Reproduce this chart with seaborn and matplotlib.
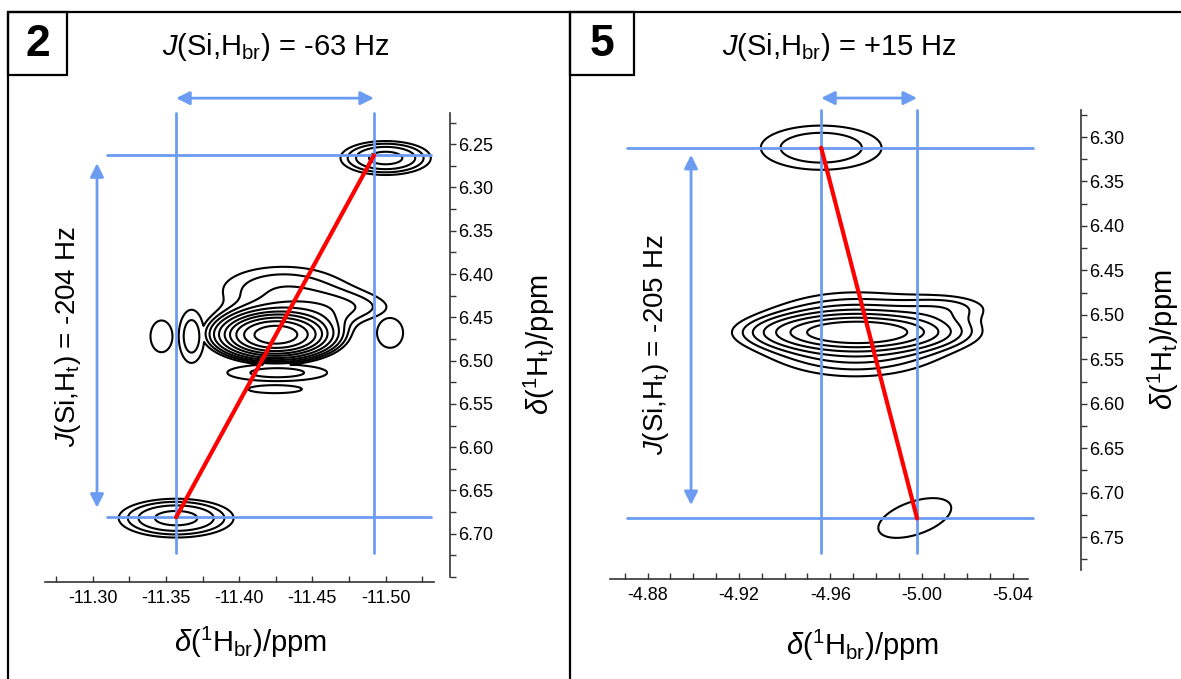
import numpy as np
import matplotlib
matplotlib.use("Agg")
import matplotlib.pyplot as plt
import seaborn as sns
from matplotlib.lines import Line2D
from matplotlib.patches import Rectangle
from matplotlib.ticker import MultipleLocator

# ---------------- data ----------------
# panel "2"
p2_xlim = [-11.2675, -11.533]
p2_ylim = [6.75, 6.214]
p2_xticks = [-11.30, -11.35, -11.40, -11.45, -11.50]
p2_xtick_labels = ["-11.30", "-11.35", "-11.40", "-11.45", "-11.50"]
p2_yticks = [6.25, 6.30, 6.35, 6.40, 6.45, 6.50, 6.55, 6.60, 6.65, 6.70]
p2_cross_x = [-11.357, -11.492]      # H_br positions of the two satellites
p2_cross_y = [6.681, 6.263]          # H_t positions of the two satellites
# contour components: centre, widths, height, correlation, group (groups are overlaid)
p2_peak_x = [-11.425, -11.500, -11.357, -11.347, -11.3675, -11.503, -11.430, -11.472, -11.426, -11.4245]
p2_peak_y = [6.4705, 6.266, 6.682, 6.472, 6.472, 6.468, 6.418, 6.440, 6.514, 6.533]
p2_peak_sx = [0.021, 0.022, 0.028, 0.0135, 0.0091, 0.016, 0.040, 0.030, 0.0378, 0.033]
p2_peak_sy = [0.0146, 0.014, 0.016, 0.033, 0.032, 0.031, 0.026, 0.014, 0.0108, 0.0083]
p2_peak_amp = [1.0, 0.16, 0.16, 0.07, 0.095, 0.07, 0.10, 0.07, 0.09, 0.07]
p2_peak_rho = [0, 0, 0, 0, 0, 0, 0, 0, 0, 0]
p2_peak_grp = [0, 1, 2, 3, 4, 5, 0, 0, 8, 9]
p2_levels = [0.06, 0.08, 0.105, 0.14, 0.19, 0.26, 0.34, 0.45, 0.6, 0.8]
p2_title = r"$J$(Si,H$_{\mathrm{br}}$) = -63 Hz"
p2_vlabel = r"$J$(Si,H$_{\mathrm{t}}$) = -204 Hz"
p2_arrow_x = -11.303
p2_arrow_y = [6.272, 6.670]

# panel "5"
p5_xlim = [-4.8635, -5.0466]
p5_ylim = [6.787, 6.2696]
p5_xticks = [-4.88, -4.92, -4.96, -5.00, -5.04]
p5_xtick_labels = ["-4.88", "-4.92", "-4.96", "-5.00", "-5.04"]
p5_yticks = [6.30, 6.35, 6.40, 6.45, 6.50, 6.55, 6.60, 6.65, 6.70, 6.75]
p5_cross_x = [-4.956, -4.998]
p5_cross_y = [6.312, 6.729]
p5_peak_x = [-4.972, -4.971, -5.012, -4.956, -4.997]
p5_peak_y = [6.5195, 6.522, 6.492, 6.312, 6.7285]
p5_peak_sx = [0.023, 0.027, 0.014, 0.0217, 0.020]
p5_peak_sy = [0.011, 0.029, 0.011, 0.0204, 0.028]
p5_peak_amp = [0.7, 0.3, 0.1, 0.168, 0.11]
p5_peak_rho = [0, 0, 0, 0, 0.5]
p5_peak_grp = [0, 0, 0, 1, 2]
p5_levels = [0.08, 0.12, 0.17, 0.24, 0.34, 0.48, 0.66]
p5_title = r"$J$(Si,H$_{\mathrm{br}}$) = +15 Hz"
p5_vlabel = r"$J$(Si,H$_{\mathrm{t}}$) = -205 Hz"
p5_arrow_x = -4.899
p5_arrow_y = [6.320, 6.714]

xlabel = r"$\delta$($^{1}$H$_{\mathrm{br}}$)/ppm"
ylabel = r"$\delta$($^{1}$H$_{\mathrm{t}}$)/ppm"

BLUE = "#6b9cf2"
RED = "#ff0000"

# ---------------- style ----------------
sns.set_style("white")
plt.rcParams["font.family"] = ["Liberation Sans", "DejaVu Sans"]
plt.rcParams["mathtext.fontset"] = "custom"
plt.rcParams["mathtext.rm"] = "Liberation Sans"
plt.rcParams["mathtext.it"] = "Liberation Sans:italic"
plt.rcParams["mathtext.bf"] = "Liberation Sans:bold"
plt.rcParams["text.color"] = "black"
plt.rcParams["axes.labelcolor"] = "black"

W, H = 1181, 679
fig = plt.figure(figsize=(W / 100, H / 100), dpi=100)


def rect(x0, y0, x1, y1):
    return [x0 / W, 1 - y1 / H, (x1 - x0) / W, (y1 - y0) / H]


def spectrum(X, Y, px, py, sx, sy, amp, rho, grp):
    groups = {}
    for x0, y0, a, b, A, r, g in zip(px, py, sx, sy, amp, rho, grp):
        dx = (X - x0) / a
        dy = (Y - y0) / b
        comp = A * np.exp(-(dx ** 2 - 2 * r * dx * dy + dy ** 2) / (2 * (1 - r ** 2)))
        groups[g] = groups.get(g, 0) + comp
    return np.max(np.stack(list(groups.values())), axis=0)


def panel(box, xlim, ylim, xticks, xtl, yticks, xminor, cross_x, cross_y,
          px, py, sx, sy, amp, rho, grp, levels, vline_bottom, hline_x,
          bottom_off, right_off, xlab_pos, ylab_pos):
    ax = fig.add_axes(rect(*box))
    X, Y = np.meshgrid(np.linspace(xlim[0], xlim[1], 700),
                       np.linspace(ylim[1], ylim[0], 700))
    Z = spectrum(X, Y, px, py, sx, sy, amp, rho, grp)
    ax.contour(X, Y, Z, levels=levels, colors="black", linewidths=1.5)
    # blue guide lines
    for xv in cross_x:
        ax.plot([xv, xv], [ylim[1], vline_bottom], color=BLUE, lw=2, clip_on=False)
    for yv in cross_y:
        ax.plot(hline_x, [yv, yv], color=BLUE, lw=2, clip_on=False)
    # red connection
    sns.lineplot(x=cross_x, y=cross_y, color=RED, lw=3, ax=ax, sort=False)
    ax.set_xlim(xlim)
    ax.set_ylim(ylim)
    ax.set_xticks(xticks)
    ax.set_xticklabels(xtl)
    ax.set_yticks(yticks)
    ax.set_yticklabels([f"{v:.2f}" for v in yticks])
    ax.xaxis.set_minor_locator(MultipleLocator(xminor))
    ax.yaxis.set_minor_locator(MultipleLocator(0.025))
    ax.yaxis.tick_right()
    for s in ["top", "left"]:
        ax.spines[s].set_visible(False)
    for s in ["bottom", "right"]:
        ax.spines[s].set_visible(True)
        ax.spines[s].set_color("#333333")
        ax.spines[s].set_linewidth(1.2)
    ax.spines["bottom"].set_position(("outward", bottom_off))
    ax.spines["right"].set_position(("outward", right_off))
    ax.tick_params(axis="x", which="both", direction="in", bottom=True, top=False,
                   length=4, width=1, color="#333333", labelsize=13, pad=6,
                   labelcolor="black")
    ax.tick_params(axis="y", which="both", direction="out", right=True, left=False,
                   length=4, width=1, color="#333333", labelsize=13, pad=2,
                   labelcolor="black")
    ax.set_xlabel(xlabel, fontsize=21)
    ax.set_ylabel(ylabel, fontsize=21, rotation=90)
    ax.xaxis.set_label_coords(*xlab_pos)
    ax.xaxis.label.set_va("center")
    ax.yaxis.set_label_position("right")
    ax.yaxis.set_label_coords(*ylab_pos)
    ax.yaxis.label.set_va("center")
    ax.grid(False)
    return ax


ax2 = panel((45, 113, 434, 577), p2_xlim, p2_ylim, p2_xticks, p2_xtick_labels,
            p2_yticks, 0.025, p2_cross_x, p2_cross_y,
            p2_peak_x, p2_peak_y, p2_peak_sx, p2_peak_sy, p2_peak_amp, p2_peak_rho,
            p2_peak_grp, p2_levels, 6.722, [-11.31, -11.531], 3.6, 11.5,
            (0.527, -0.142), (1.272, 0.5))
ax5 = panel((610, 110, 1028, 570), p5_xlim, p5_ylim, p5_xticks, p5_xtick_labels,
            p5_yticks, 0.01, p5_cross_x, p5_cross_y,
            p5_peak_x, p5_peak_y, p5_peak_sx, p5_peak_sy, p5_peak_amp, p5_peak_rho,
            p5_peak_grp, p5_levels, 6.768, [-4.871, -5.049], 6.5, 38,
            (0.605, -0.163), (1.323, 0.5))

# arrows
arrow_kw = dict(arrowstyle="<|-|>", color=BLUE, lw=2, mutation_scale=20,
                shrinkA=0, shrinkB=0)
for ax, cx, ay_frac, ax_x, ay in [(ax2, p2_cross_x, 1.032, p2_arrow_x, p2_arrow_y),
                                  (ax5, p5_cross_x, 1.026, p5_arrow_x, p5_arrow_y)]:
    ax.annotate("", xy=(cx[1], ay_frac), xytext=(cx[0], ay_frac),
                xycoords=ax.get_xaxis_transform(), textcoords=ax.get_xaxis_transform(),
                arrowprops=arrow_kw, annotation_clip=False)
    ax.annotate("", xy=(ax_x, ay[0]), xytext=(ax_x, ay[1]),
                xycoords="data", textcoords="data",
                arrowprops=arrow_kw, annotation_clip=False)

# titles and vertical coupling labels
fig.text(276 / W, 1 - 47 / H, p2_title, fontsize=21, ha="center", va="center")
fig.text(839 / W, 1 - 47 / H, p5_title, fontsize=21, ha="center", va="center")
fig.text(68 / W, 1 - 337 / H, p2_vlabel, fontsize=20, ha="center", va="center", rotation=90)
fig.text(656 / W, 1 - 345 / H, p5_vlabel, fontsize=20, ha="center", va="center", rotation=90)

# frame and number boxes
lw_frame = 1.6
for (x0, y0, x1, y1) in [(8, 12, 1181, 12), (8, 12, 8, 679), (570, 12, 570, 679)]:
    fig.add_artist(Line2D([x0 / W, x1 / W], [1 - y0 / H, 1 - y1 / H],
                          color="black", lw=lw_frame, transform=fig.transFigure))
for (x0, x1, lab) in [(8, 67, "2"), (570, 634, "5")]:
    fig.add_artist(Rectangle((x0 / W, 1 - 75 / H), (x1 - x0) / W, 63 / H,
                             fill=False, ec="black", lw=lw_frame, transform=fig.transFigure))
    fig.text((x0 + x1) / 2 / W, 1 - 44 / H, lab, fontsize=32, fontweight="bold",
             ha="center", va="center")

fig.savefig("out.png", dpi=100)
